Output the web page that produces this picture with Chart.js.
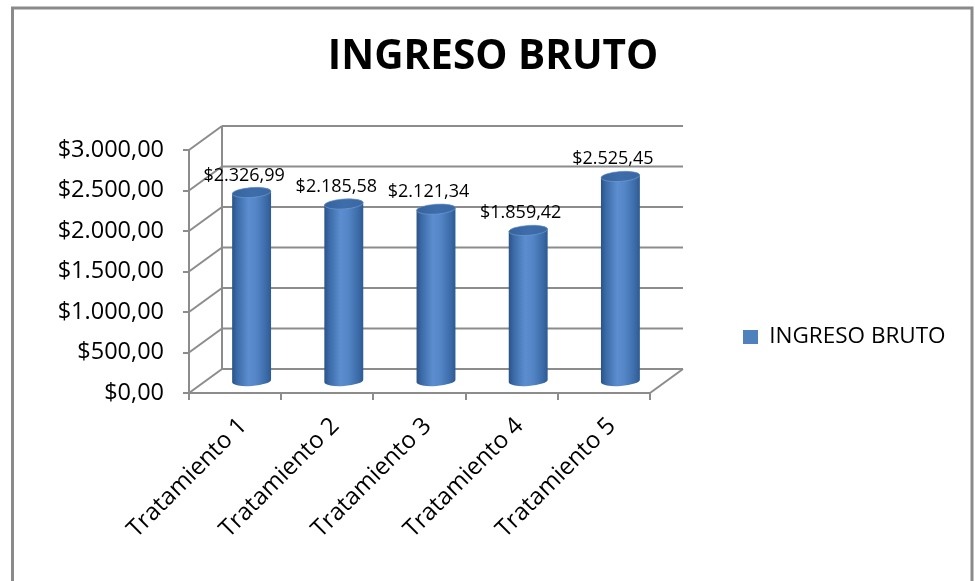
<!DOCTYPE html>
<html>
<head>
<meta charset="utf-8">
<script src="https://cdn.jsdelivr.net/npm/chart.js@4/dist/chart.umd.min.js"></script>
<style>
  html, body { margin: 0; padding: 0; background: #fff; }
  #wrap { width: 975px; height: 581px; }
</style>
</head>
<body>
<div id="wrap"><canvas id="chart" width="975" height="581"></canvas></div>
<script>
// data
const categories = ['Tratamiento 1', 'Tratamiento 2', 'Tratamiento 3', 'Tratamiento 4', 'Tratamiento 5'];
const ingresoBruto = [2326.99, 2185.58, 2121.34, 1859.42, 2525.45];
const seriesName = 'INGRESO BRUTO';
const yTicks = [0, 500, 1000, 1500, 2000, 2500, 3000];

const FONT = "'Open Sans', 'DejaVu Sans', sans-serif";
const GRID = '#8c8c8c';
const DX = 33, DY = -24; // depth of the 3d box
const LEGEND_WIDTH = 307;

// $2.326,99 style
function money(v) {
  const parts = Number(v).toFixed(2).split('.');
  return '$' + parts[0].replace(/\B(?=(\d{3})+(?!\d))/g, '.') + ',' + parts[1];
}

function line(ctx, x1, y1, x2, y2) {
  ctx.beginPath();
  ctx.moveTo(x1, y1);
  ctx.lineTo(x2, y2);
  ctx.stroke();
}

function drawCylinder(ctx, cx, yTop, yBase, rx, ry) {
  const rot = -0.07;
  const g = ctx.createLinearGradient(cx - rx, 0, cx + rx, 0);
  g.addColorStop(0, '#2a5286');
  g.addColorStop(0.12, '#3a69a6');
  g.addColorStop(0.42, '#5c8ecf');
  g.addColorStop(0.6, '#5587c8');
  g.addColorStop(0.88, '#3b6aa7');
  g.addColorStop(1, '#2d5a92');
  ctx.beginPath();
  ctx.ellipse(cx, yBase, rx, ry, rot, Math.PI, 0, true);
  ctx.ellipse(cx, yTop, rx, ry, rot, 0, Math.PI, true);
  ctx.closePath();
  ctx.fillStyle = g;
  ctx.fill();

  const tg = ctx.createLinearGradient(cx - rx, yTop, cx + rx, yTop);
  tg.addColorStop(0, '#36639d');
  tg.addColorStop(0.5, '#3e6dab');
  tg.addColorStop(1, '#3a68a4');
  ctx.beginPath();
  ctx.ellipse(cx, yTop, rx, ry, rot, 0, Math.PI * 2);
  ctx.fillStyle = tg;
  ctx.fill();
  ctx.strokeStyle = 'rgba(120,160,215,0.6)';
  ctx.lineWidth = 1;
  ctx.stroke();
}

// Chart.js caps a side legend at a quarter of the canvas; the original gives it more room
const wideLegend = {
  id: 'wideLegend',
  beforeLayout(chart) {
    const legend = chart.legend;
    if (!legend || legend.$wide) return;
    const fit = legend.fit;
    legend.fit = function () {
      fit.call(this);
      this.width = LEGEND_WIDTH;
    };
    legend.$wide = true;
  }
};

const frame3d = {
  id: 'frame3d',
  beforeDraw(chart) {
    const ctx = chart.ctx;
    ctx.save();
    ctx.fillStyle = '#fff';
    ctx.fillRect(0, 0, chart.width, chart.height);
    ctx.strokeStyle = '#8a8a8a';
    ctx.lineWidth = 3;
    ctx.beginPath();
    ctx.moveTo(12.5, chart.height);
    ctx.lineTo(12.5, 8);
    ctx.lineTo(972, 8);
    ctx.lineTo(972, chart.height);
    ctx.stroke();
    ctx.restore();
  },
  beforeDatasetsDraw(chart) {
    const ctx = chart.ctx;
    const { left, right } = chart.chartArea;
    const ys = chart.scales.y;
    ctx.save();
    ctx.strokeStyle = GRID;
    ctx.lineWidth = 2;
    ys.ticks.forEach(t => {
      const y = ys.getPixelForValue(t.value);
      line(ctx, left, y, left + DX, y + DY);
      line(ctx, left + DX, y + DY, right + DX, y + DY);
    });
    line(ctx, left + DX, ys.top + DY, left + DX, ys.bottom + DY);
    line(ctx, right, ys.bottom, right + DX, ys.bottom + DY);

    const meta = chart.getDatasetMeta(0);
    const base = ys.getPixelForValue(0);
    meta.data.forEach(bar => {
      const cx = bar.x + DX / 2;
      drawCylinder(ctx, cx, bar.y + DY / 2, base + DY / 2, bar.width / 2, 5);
    });
    ctx.restore();
    return false;
  },
  afterDraw(chart) {
    const ctx = chart.ctx;
    const meta = chart.getDatasetMeta(0);
    ctx.save();
    ctx.fillStyle = '#000';
    ctx.font = '18px ' + FONT;
    ctx.textAlign = 'center';
    ctx.textBaseline = 'alphabetic';
    meta.data.forEach((bar, i) => {
      ctx.fillText(money(ingresoBruto[i]), bar.x + 9, bar.y - 24);
    });
    ctx.restore();
  }
};

new Chart(document.getElementById('chart'), {
  type: 'bar',
  data: {
    labels: categories,
    datasets: [{
      label: seriesName,
      data: ingresoBruto,
      backgroundColor: '#4f81bd',
      borderWidth: 0,
      categoryPercentage: 1,
      barPercentage: 0.423
    }]
  },
  options: {
    responsive: false,
    animation: false,
    layout: { padding: { left: 29, right: 18, top: 0, bottom: 0 } },
    plugins: {
      title: {
        display: true,
        text: seriesName,
        color: '#000',
        font: { family: FONT, size: 40.5, weight: 'bold', lineHeight: 1.2 },
        padding: { top: 33, bottom: 68.4 }
      },
      legend: {
        position: 'right',
        title: { display: true, text: '', padding: { top: 93, bottom: 0 }, font: { size: 1, lineHeight: 0 } },
        labels: {
          boxWidth: 15,
          boxHeight: 14,
          padding: 93,
          color: '#000',
          font: { family: FONT, size: 22.5 }
        }
      },
      tooltip: { enabled: false }
    },
    scales: {
      x: {
        grid: { drawOnChartArea: false, color: GRID, lineWidth: 2, tickLength: 7 },
        border: { color: GRID, width: 2 },
        ticks: { minRotation: 45, maxRotation: 45, color: '#000', font: { family: FONT, size: 24 }, padding: 12, labelOffset: 8 },
        afterFit: s => { s.height = 188; }
      },
      y: {
        min: 0,
        max: 3000,
        grid: { drawOnChartArea: false, color: GRID, lineWidth: 2, tickLength: 6 },
        border: { color: GRID, width: 2 },
        ticks: { color: '#000', font: { family: FONT, size: 23.5 }, padding: 19, callback: v => money(v) },
        afterBuildTicks: s => { s.ticks = yTicks.map(v => ({ value: v })); },
        afterFit: s => { s.width = 160; }
      }
    }
  },
  plugins: [wideLegend, frame3d]
});
</script>
</body>
</html>
